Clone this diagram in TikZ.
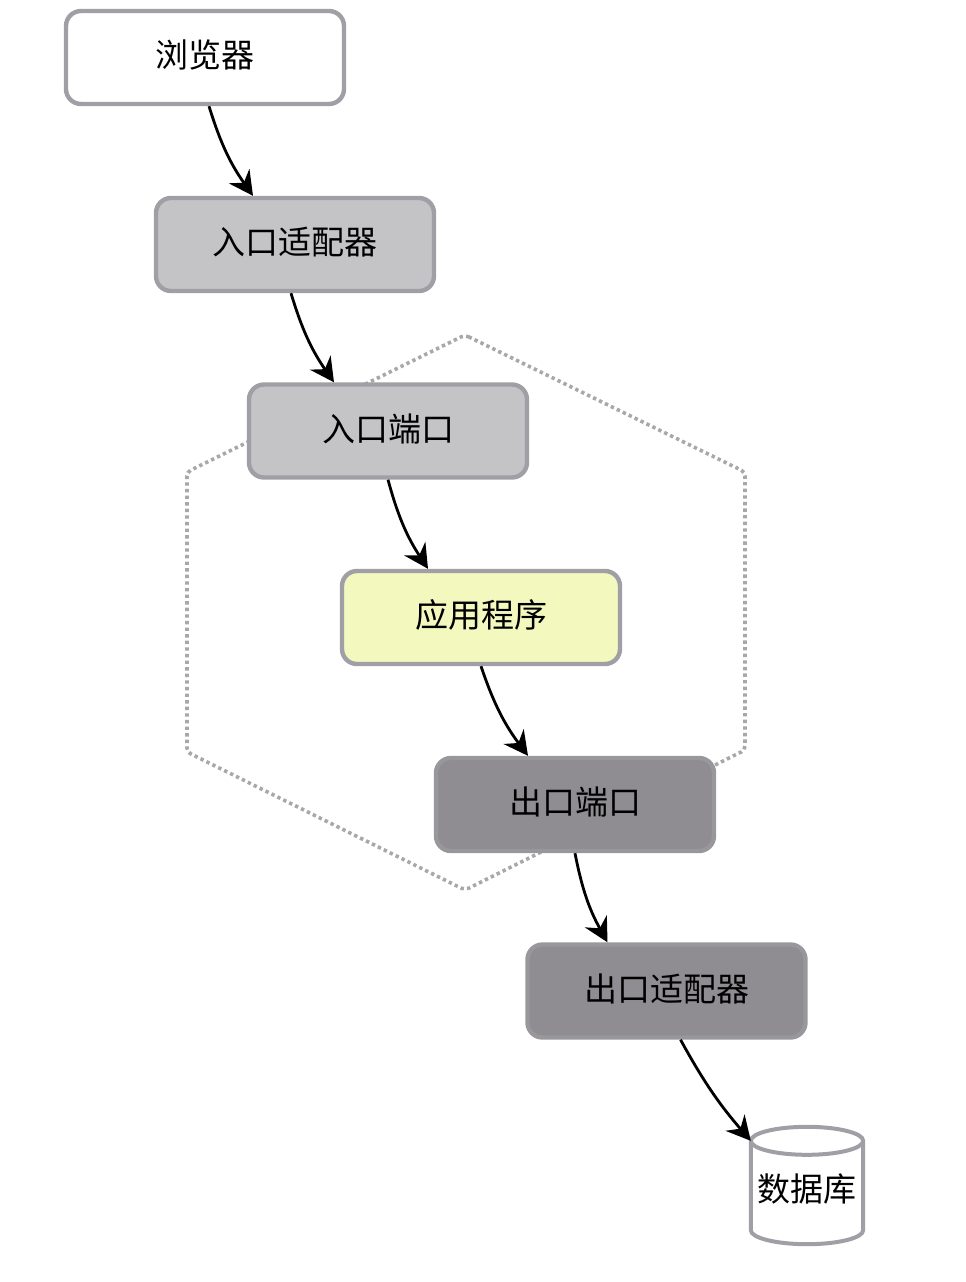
\documentclass[tikz,border=0pt]{standalone}
\usepackage{fontspec}
\setmainfont{Noto Sans CJK SC}
\usetikzlibrary{arrows.meta,calc}
\definecolor{edgegray}{HTML}{A09FA5}
\definecolor{lightfill}{HTML}{C4C4C7}
\definecolor{darkfill}{HTML}{8F8D92}
\definecolor{darkedge}{HTML}{98979B}
\definecolor{yellowfill}{HTML}{F2F8BE}
\definecolor{dotgray}{HTML}{A8A8A8}
\tikzset{
  x=1pt,y=1pt,
  boxbase/.style={draw=edgegray,line width=4.4pt,rounded corners=15pt,minimum width=278pt,minimum height=93pt,inner sep=0pt,font=\fontsize{33}{36}\selectfont,text=black,text height=22pt,text depth=2pt},
  whitebox/.style={boxbase,fill=white},
  lightbox/.style={boxbase,fill=lightfill},
  darkbox/.style={boxbase,fill=darkfill,draw=darkedge},
  yellowbox/.style={boxbase,fill=yellowfill},
  dblabel/.style={minimum width=112pt,minimum height=117pt,inner sep=0pt,font=\fontsize{33}{36}\selectfont,text height=33pt,text depth=1pt},
  dbline/.style={draw=edgegray,line width=4pt},
  flow/.style={-{Stealth[length=24pt,width=25pt,inset=8pt]},line width=2.8pt,black},
  hexline/.style={draw=dotgray,line width=3.6pt,dash pattern=on 3.4pt off 3.2pt,rounded corners=4pt},
}
\begin{document}
\begin{tikzpicture}
\useasboundingbox (0,0) rectangle (966,-1282);
\coordinate (h1) at (465,-335);
\coordinate (h2) at (745,-472);
\coordinate (h3) at (745,-750);
\coordinate (h4) at (465,-890);
\coordinate (h5) at (187,-752);
\coordinate (h6) at (187,-472);
\draw[hexline] (h1) -- (h2) -- (h3) -- (h4) -- (h5) -- (h6) -- cycle;
\node[whitebox] (browser) at (205,-57.5) {浏览器};
\node[lightbox] (inadapter) at (295,-244.5) {入口适配器};
\node[lightbox] (inport) at (388,-431) {入口端口};
\node[yellowbox] (app) at (481,-617.5) {应用程序};
\node[darkbox] (outport) at (575,-804.5) {出口端口};
\node[darkbox] (outadapter) at (666.5,-991) {出口适配器};
\node[dblabel] (db) at (807,-1185.5) {数据库};
\draw[dbline] ($(db.north west)+(0,-14)$) coordinate (dbtl)
  .. controls +(0,7.7) and ($(db.north)+(-31,0)$) .. (db.north)
  .. controls ($(db.north)+(31,0)$) and ($(db.north east)+(0,-6.3)$) .. ($(db.north east)+(0,-14)$)
  -- ($(db.south east)+(0,14)$)
  .. controls +(0,-7.7) and ($(db.south)+(31,0)$) .. (db.south)
  .. controls ($(db.south)+(-31,0)$) and ($(db.south west)+(0,6.3)$) .. ($(db.south west)+(0,14)$)
  -- cycle;
\draw[dbline] (dbtl)
  .. controls +(0,-7.7) and ($(db.north)+(-31,-28)$) .. ($(db.north)+(0,-28)$)
  .. controls ($(db.north)+(31,-28)$) and ($(db.north east)+(0,-21.7)$) .. ($(db.north east)+(0,-14)$);
\draw[flow] ([xshift=4pt]browser.south) to[bend right=9] ([xshift=-42pt]inadapter.north);
\draw[flow] ([xshift=-4pt]inadapter.south) to[bend right=9] ([xshift=-54pt]inport.north);
\draw[flow] (inport.south) to[bend right=9] ([xshift=-53pt]app.north);
\draw[flow] (app.south) to[bend right=9] ([xshift=-47pt]outport.north);
\draw[flow] (outport.south) to[bend right=9] ([xshift=-59pt]outadapter.north);
\draw[flow] ([xshift=14pt]outadapter.south) to[bend right=6] (dbtl);
\end{tikzpicture}
\end{document}
